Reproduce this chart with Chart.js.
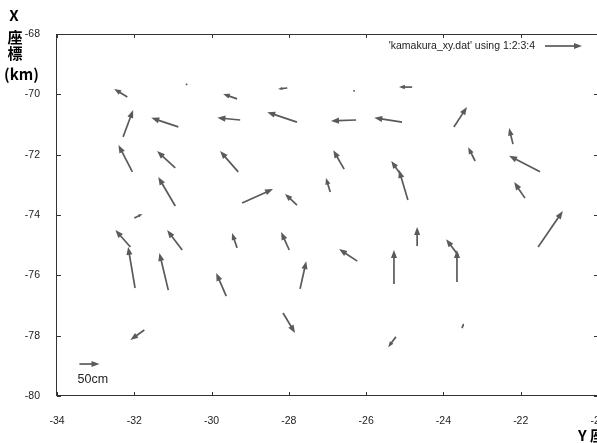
<!DOCTYPE html>
<html>
<head>
<meta charset="utf-8">
<script src="https://cdn.jsdelivr.net/npm/chart.js@4/dist/chart.umd.min.js"></script>
<style>
  html, body { margin: 0; padding: 0; background: #ffffff; overflow: hidden; }
  #wrap { position: relative; width: 600px; height: 443px; }
</style>
</head>
<body>
<div id="wrap"><canvas id="c" width="600" height="443"></canvas></div>
<script>
// Tail positions: Y coordinate (horizontal axis, km) and X coordinate (vertical axis, km)
const tailY = [-32.18, -30.66, -29.34, -28.04, -26.29, -24.81,
               -32.29, -30.86, -29.26, -27.79, -26.26, -25.07, -23.73, -22.20,
               -32.05, -30.94, -29.31, -26.57, -25.10, -24.92, -23.18, -21.50,
               -30.94, -29.21, -27.79, -26.93, -21.89, -21.55, -32.00,
               -32.10, -31.98, -30.76, -31.12, -29.34, -29.62, -27.99, -27.71,
               -31.74, -28.15, -26.23, -25.28, -24.68, -23.62, -23.65, -25.23, -23.52];
const tailX = [-70.09, -69.69, -70.15, -69.79, -69.89, -69.76,
               -71.41, -71.08, -70.85, -70.92, -70.85, -70.92, -71.08, -71.65,
               -72.57, -72.44, -72.57, -72.48, -72.67, -73.50, -72.21, -72.57,
               -73.70, -73.60, -73.67, -73.24, -73.44, -75.06, -74.10,
               -75.06, -76.42, -75.16, -76.49, -75.09, -76.69, -75.16, -76.45,
               -77.81, -77.25, -75.53, -76.29, -75.03, -75.33, -76.22, -78.04, -77.75];
// Vector components (same units as the axes)
const vecY = [-0.34, 0.02, -0.36, -0.24, -0.03, -0.34,
              0.26, -0.70, -0.59, -0.77, -0.65, -0.72, 0.34, -0.10,
              -0.36, -0.47, -0.47, -0.28, -0.25, -0.23, -0.18, -0.80,
              -0.44, 0.80, -0.31, -0.11, -0.28, 0.64, 0.21,
              -0.39, -0.18, -0.39, -0.23, -0.13, -0.26, -0.21, 0.16,
              -0.36, 0.31, -0.47, 0.00, 0.00, -0.31, 0.00, -0.20, 0.05];
const vecX = [0.27, 0.03, 0.16, -0.03, 0.01, 0.00,
              0.89, 0.30, 0.07, 0.33, -0.03, 0.14, 0.66, 0.53,
              0.89, 0.56, 0.69, 0.63, 0.46, 0.99, 0.46, 0.53,
              0.96, 0.46, 0.37, 0.47, 0.53, 1.19, 0.13,
              0.56, 1.36, 0.66, 1.23, 0.49, 0.77, 0.60, 0.92,
              -0.33, -0.66, 0.40, 1.13, 0.63, 0.53, 1.06, -0.34, 0.16];
// 50 cm scale arrow
const scaleTail = [-33.42, -78.94];
const scaleVec = [0.52, 0.00];
const scaleLabel = '50cm';
const scaleLabelPos = [-33.47, -79.45];
// Axis ticks
const xTicks = [-34, -32, -30, -28, -26, -24, -22, -20];
const yTicks = [-80, -78, -76, -74, -72, -70, -68];
const legendText = "'kamakura_xy.dat' using 1:2:3:4";
const xTitle = 'Y 座標 (km)';
const yTitleLines = ['X', '座', '標', '(km)'];

const ARROW = '#5a5a5a';
const FRAME = '#333333';

function drawArrow(ctx, x0, y0, x1, y1) {
  const dx = x1 - x0, dy = y1 - y0, len = Math.hypot(dx, dy);
  if (len < 0.5) { ctx.fillRect(x0 - 0.8, y0 - 0.8, 1.6, 1.6); return; }
  const ux = dx / len, uy = dy / len;
  const hl = Math.min(8, len * 0.45), hw = hl * 0.38;
  const bx = x1 - ux * hl, by = y1 - uy * hl;
  ctx.beginPath(); ctx.moveTo(x0, y0); ctx.lineTo(bx + ux * 1, by + uy * 1); ctx.stroke();
  ctx.beginPath();
  ctx.moveTo(x1, y1);
  ctx.lineTo(bx - uy * hw, by + ux * hw);
  ctx.lineTo(bx + uy * hw, by - ux * hw);
  ctx.closePath(); ctx.fill();
}

const bgPlugin = {
  id: 'bg',
  beforeDraw(chart) {
    const ctx = chart.ctx;
    ctx.save(); ctx.fillStyle = '#ffffff'; ctx.fillRect(0, 0, chart.width, chart.height); ctx.restore();
  }
};

const vectorPlugin = {
  id: 'vectors',
  afterDatasetsDraw(chart) {
    const ctx = chart.ctx, xs = chart.scales.x, ys = chart.scales.y, a = chart.chartArea;
    ctx.save();
    ctx.strokeStyle = ARROW; ctx.fillStyle = ARROW; ctx.lineWidth = 1.7; ctx.lineCap = 'butt';
    chart.data.datasets.forEach(ds => {
      ds.data.forEach(p => {
        drawArrow(ctx, xs.getPixelForValue(p.x), ys.getPixelForValue(p.y),
                  xs.getPixelForValue(p.x + p.dx), ys.getPixelForValue(p.y + p.dy));
      });
    });
    // scale label
    ctx.fillStyle = '#222';
    ctx.font = '12.5px "Liberation Sans", Arial, sans-serif';
    ctx.textBaseline = 'middle'; ctx.textAlign = 'left';
    ctx.fillText(scaleLabel, xs.getPixelForValue(scaleLabelPos[0]), ys.getPixelForValue(scaleLabelPos[1]));
    // legend
    ctx.font = '10.5px "Liberation Sans", Arial, sans-serif';
    ctx.textAlign = 'right';
    const ly = a.top + 12;
    ctx.fillText(legendText, a.right - 63, ly);
    ctx.fillStyle = ARROW;
    drawArrow(ctx, a.right - 53, ly, a.right - 16, ly);
    // frame
    ctx.strokeStyle = FRAME; ctx.lineWidth = 1;
    ctx.strokeRect(Math.round(a.left) - 0.5, Math.round(a.top) + 0.5, Math.round(a.right - a.left), Math.round(a.bottom - a.top) - 1);
    // inward ticks (mirrored)
    ctx.beginPath();
    xTicks.forEach(v => {
      const px = Math.round(xs.getPixelForValue(v)) + 0.5;
      ctx.moveTo(px, a.top); ctx.lineTo(px, a.top + 4);
      ctx.moveTo(px, a.bottom); ctx.lineTo(px, a.bottom - 4);
    });
    yTicks.forEach(v => {
      const py = Math.round(ys.getPixelForValue(v)) + 0.5;
      ctx.moveTo(a.left, py); ctx.lineTo(a.left + 4, py);
      ctx.moveTo(a.right, py); ctx.lineTo(a.right - 4, py);
    });
    ctx.stroke();
    // axis titles
    ctx.fillStyle = '#000';
    ctx.textBaseline = 'middle';
    ctx.textAlign = 'center';
    ctx.font = 'bold 15px "Noto Sans CJK JP", sans-serif';
    ctx.fillText(yTitleLines[0], 14, 15);
    ctx.fillText(yTitleLines[1], 15, 37);
    ctx.fillText(yTitleLines[2], 15, 53);
    ctx.textAlign = 'left';
    ctx.fillText(yTitleLines[3], 4, 74);
    ctx.fillText(xTitle, 578, 435);
    ctx.restore();
  }
};

const pts = tailY.map((y, i) => ({ x: y, y: tailX[i], dx: vecY[i], dy: vecX[i] }));
const scalePts = [{ x: scaleTail[0], y: scaleTail[1], dx: scaleVec[0], dy: scaleVec[1] }];

new Chart(document.getElementById('c'), {
  type: 'scatter',
  data: {
    datasets: [
      { label: legendText, data: pts, pointRadius: 0, showLine: false },
      { label: 'scale', data: scalePts, pointRadius: 0, showLine: false }
    ]
  },
  options: {
    responsive: false,
    animation: false,
    devicePixelRatio: 1,
    layout: { padding: { top: 34, right: 2, left: 0, bottom: 0 } },
    plugins: { legend: { display: false }, tooltip: { enabled: false } },
    scales: {
      x: {
        type: 'linear', min: -34, max: -20,
        afterBuildTicks: s => { s.ticks = xTicks.map(v => ({ value: v })); },
        ticks: { color: '#222', padding: 11, maxRotation: 0, autoSkip: false,
                 font: { family: '"Liberation Sans", Arial, sans-serif', size: 10.5 } },
        grid: { display: false },
        border: { display: false },
        afterFit: s => { s.height = 47; s.paddingLeft = 0; s.paddingRight = 0; }
      },
      y: {
        type: 'linear', min: -80, max: -68,
        afterBuildTicks: s => { s.ticks = yTicks.map(v => ({ value: v })); },
        ticks: { color: '#222', padding: 9, autoSkip: false,
                 font: { family: '"Liberation Sans", Arial, sans-serif', size: 10.5 } },
        grid: { display: false },
        border: { display: false },
        afterFit: s => { s.width = 57; s.paddingTop = 0; s.paddingBottom = 0; }
      }
    }
  },
  plugins: [bgPlugin, vectorPlugin]
});
</script>
</body>
</html>
